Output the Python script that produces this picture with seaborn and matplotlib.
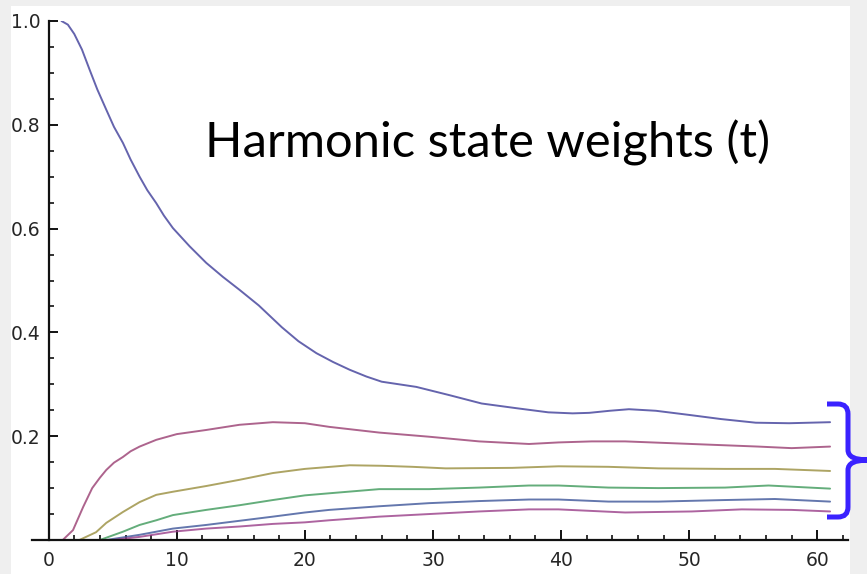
import numpy as np
import pandas as pd
import seaborn as sns
import matplotlib.pyplot as plt
from matplotlib.path import Path
from matplotlib.patches import PathPatch, Rectangle
from matplotlib.ticker import MultipleLocator

# harmonic state weights, one (t, weight) list per state
t1 = [1, 1.5, 2, 2.6, 3.2, 3.8, 4.5, 5.1, 5.8, 6.4, 7.1, 7.7, 8.4, 9.0, 9.7, 11, 12.3,
      13.6, 14.9, 16.4, 18.2, 19.5, 20.9, 22.2, 23.5, 24.8, 26, 28.7, 31.3, 33.8, 36.5,
      39, 40.9, 42.2, 43.8, 45.3, 47.4, 50, 52.5, 55.2, 57.8, 61]
w1 = [1.0, 0.993, 0.975, 0.945, 0.906, 0.868, 0.829, 0.796, 0.765, 0.733, 0.70, 0.674,
      0.649, 0.625, 0.601, 0.566, 0.534, 0.507, 0.482, 0.452, 0.41, 0.383, 0.36, 0.343,
      0.328, 0.315, 0.305, 0.295, 0.279, 0.263, 0.254, 0.246, 0.244, 0.245, 0.249, 0.252,
      0.249, 0.241, 0.233, 0.226, 0.225, 0.227]

t2 = [1.1, 1.9, 2.7, 3.4, 4.0, 4.5, 5.1, 5.8, 6.4, 7.1, 8.4, 10, 12.3, 14.9, 17.5, 20,
      21.9, 25.8, 29.7, 33.6, 37.5, 39.8, 42.4, 45, 50.2, 55.4, 58, 61]
w2 = [0, 0.019, 0.064, 0.10, 0.12, 0.135, 0.149, 0.16, 0.171, 0.18, 0.193, 0.204,
      0.212, 0.222, 0.227, 0.225, 0.218, 0.207, 0.199, 0.19, 0.185, 0.188, 0.19, 0.19,
      0.185, 0.18, 0.177, 0.18]

t3 = [2.4, 3.7, 4.5, 5.8, 7.1, 8.4, 9.7, 12.3, 14.9, 17.5, 20, 23.5, 26, 28.4, 31,
      36.2, 39.8, 43.7, 47.6, 52.8, 56.7, 61]
w3 = [0, 0.015, 0.033, 0.054, 0.073, 0.087, 0.093, 0.104, 0.116, 0.129, 0.137, 0.144,
      0.143, 0.141, 0.138, 0.139, 0.142, 0.141, 0.138, 0.137, 0.137, 0.133]

t4 = [4, 5.8, 7.1, 8.4, 9.7, 12.3, 14.9, 17.5, 20, 21.9, 25.8, 29.7, 33.6, 37.5, 39.8,
      43.7, 47.6, 52.8, 56.2, 61]
w4 = [0, 0.016, 0.029, 0.038, 0.048, 0.058, 0.067, 0.077, 0.086, 0.09, 0.098, 0.098,
      0.101, 0.105, 0.105, 0.101, 0.1, 0.101, 0.105, 0.099]

t5 = [4.5, 7.1, 8.4, 9.7, 12.3, 14.9, 17.5, 20, 21.9, 25.8, 29.7, 33.6, 37.5, 39.8,
      43.7, 47.6, 52.8, 56.7, 61]
w5 = [0, 0.01, 0.016, 0.022, 0.029, 0.037, 0.045, 0.053, 0.058, 0.065, 0.071, 0.075,
      0.078, 0.078, 0.074, 0.074, 0.077, 0.079, 0.074]

t6 = [5, 7.1, 9.7, 12.3, 14.9, 17.5, 20, 21.9, 25.8, 29.7, 33.6, 37.5, 39.8, 45, 50.2,
      54.1, 58, 61]
w6 = [0, 0.006, 0.016, 0.022, 0.026, 0.031, 0.034, 0.038, 0.045, 0.05, 0.055, 0.059,
      0.059, 0.053, 0.055, 0.059, 0.058, 0.055]

states = ["s1", "s2", "s3", "s4", "s5", "s6"]
times = [t1, t2, t3, t4, t5, t6]
weights = [w1, w2, w3, w4, w5, w6]
colors = ["#3e3d99", "#993d71", "#998e3d", "#3d995a", "#3d5599", "#993d88"]

title = "Harmonic state weights (t)"


def main():
    sns.set_style("white")
    fig = plt.figure(figsize=(8.67, 5.74), dpi=100, facecolor="#efefef")
    # white slide panel
    fig.add_artist(Rectangle((11 / 867, 0), (850 - 11) / 867, 1 - 6 / 574,
                             transform=fig.transFigure, facecolor="white",
                             edgecolor="none", zorder=0))
    ax = fig.add_axes([32 / 867, 1 - 540 / 574, (848 - 32) / 867, (540 - 21) / 574])
    ax.set_facecolor("none")

    df = pd.concat([pd.DataFrame({"t": t, "w": w, "state": s})
                    for t, w, s in zip(times, weights, states)])
    sns.lineplot(data=df, x="t", y="w", hue="state", palette=colors,
                 estimator=None, sort=False, linewidth=1.4, alpha=0.8,
                 legend=False, ax=ax)

    ax.set_xlim(-1.3, 62.4)
    ax.set_ylim(0, 1.0)
    ax.set_xlabel("")
    ax.set_ylabel("")
    for s in ["top", "right"]:
        ax.spines[s].set_visible(False)
    ax.spines["left"].set_position(("data", 0))
    for s in ["left", "bottom"]:
        ax.spines[s].set_linewidth(1.6)
        ax.spines[s].set_color("#111111")

    ax.xaxis.set_major_locator(MultipleLocator(10))
    ax.xaxis.set_minor_locator(MultipleLocator(2))
    ax.set_yticks([0.2, 0.4, 0.6, 0.8, 1.0])
    ax.yaxis.set_minor_locator(MultipleLocator(0.05))
    ax.yaxis.set_major_formatter(plt.FuncFormatter(lambda v, p: f"{v:.1f}"))

    ax.tick_params(axis="both", which="both", direction="in", color="#111111",
                   labelcolor="#262626", labelsize=13.5, bottom=True, left=True)
    ax.tick_params(axis="x", which="major", length=7, width=1.4, pad=8)
    ax.tick_params(axis="x", which="minor", length=3.6, width=1.2)
    ax.tick_params(axis="y", which="major", length=6.5, width=1.4, pad=6)
    ax.tick_params(axis="y", which="minor", length=3.4, width=1.2)

    fig.text(205 / 867, 1 - 157 / 574, title, ha="left", va="baseline",
             fontsize=35.3, family=["Lato", "DejaVu Sans"], color="black")

    # curly brace grouping the lower curves
    pts = [(827, 404), (838, 404), (848, 404), (848, 414), (848, 450),
           (848, 460), (868, 460), (848, 460), (848, 470), (848, 507),
           (848, 517), (838, 517), (827, 517)]
    codes = [Path.MOVETO, Path.LINETO, Path.CURVE3, Path.CURVE3, Path.LINETO,
             Path.CURVE3, Path.CURVE3, Path.CURVE3, Path.CURVE3, Path.LINETO,
             Path.CURVE3, Path.CURVE3, Path.LINETO]
    verts = [(x / 867, 1 - y / 574) for x, y in pts]
    fig.add_artist(PathPatch(Path(verts, codes), transform=fig.transFigure,
                             facecolor="none", edgecolor="#3a22ff", linewidth=3.6,
                             capstyle="butt", joinstyle="miter", zorder=10))

    plt.savefig("out.png", dpi=100, facecolor=fig.get_facecolor())


if __name__ == "__main__":
    main()
